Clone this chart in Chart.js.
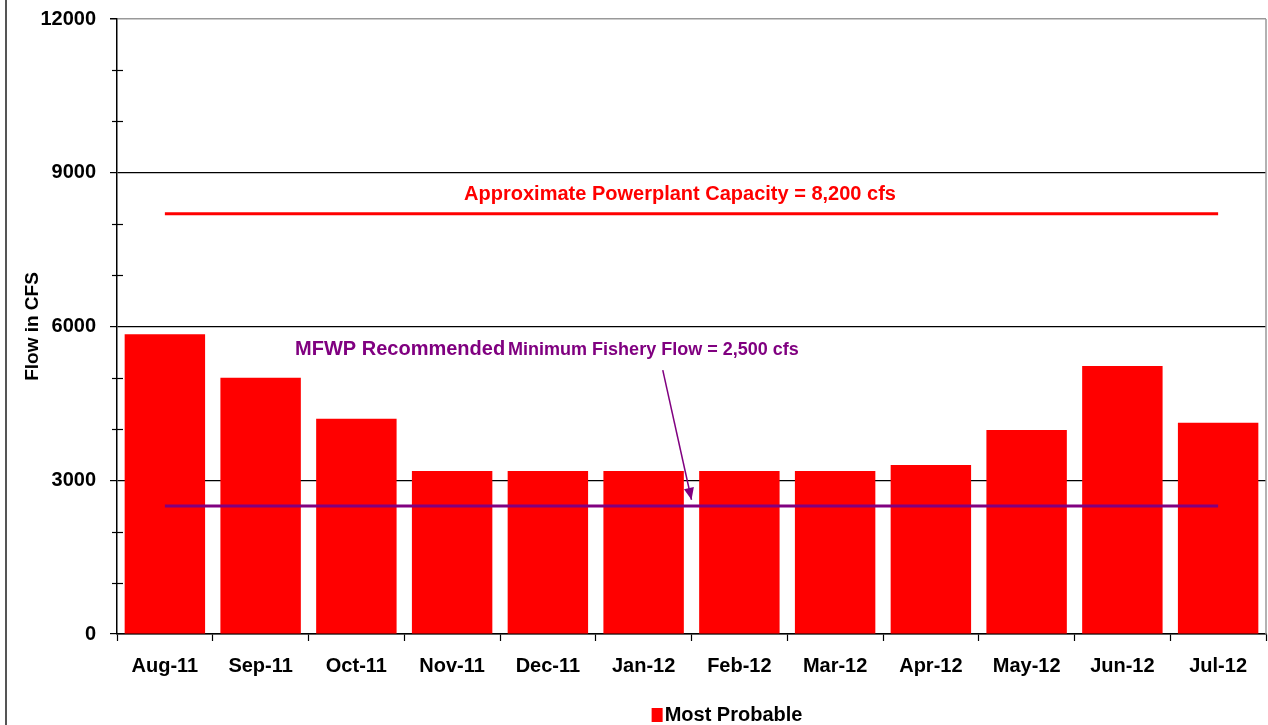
<!DOCTYPE html>
<html>
<head>
<meta charset="utf-8">
<script src="https://cdn.jsdelivr.net/npm/chart.js@4/dist/chart.umd.min.js"></script>
<style>
  html, body { margin: 0; padding: 0; background: #fff; }
  #wrap { position: relative; width: 1268px; height: 725px; }
  #frame { position: absolute; left: 5px; top: 0; width: 0; height: 725px; border-left: 2px solid #555; }
</style>
</head>
<body>
<div id="wrap">
  <div id="frame"></div>
  <canvas id="chart" width="1268" height="725"></canvas>
</div>
<script>
'use strict';

const months = ['Aug-11', 'Sep-11', 'Oct-11', 'Nov-11', 'Dec-11', 'Jan-12',
                'Feb-12', 'Mar-12', 'Apr-12', 'May-12', 'Jun-12', 'Jul-12'];
const mostProbable = [5850, 5000, 4200, 3180, 3180, 3180, 3180, 3180, 3300, 3980, 5230, 4120];
const powerplantCapacity = [8200, 8200, 8200, 8200, 8200, 8200, 8200, 8200, 8200, 8200, 8200, 8200];
const fisheryFlow = [2500, 2500, 2500, 2500, 2500, 2500, 2500, 2500, 2500, 2500, 2500, 2500];
const yTicks = [0, 3000, 6000, 9000, 12000];
const yMinorTicks = [1000, 2000, 4000, 5000, 7000, 8000, 10000, 11000];

const capacityText = 'Approximate Powerplant Capacity = 8,200 cfs';
const fisheryTextBig = 'MFWP Recommended';
const fisheryTextSmall = ' Minimum Fishery Flow = 2,500 cfs';
const legendText = 'Most Probable';

const FONT = '"Liberation Sans", Arial, sans-serif';

// excel style minor ticks, grey right border, notes + arrow, legend
const extras = {
    id: 'extras',
    afterDatasetsDraw(chart) {
        const ctx = chart.ctx;
        const area = chart.chartArea;
        const x = chart.scales.x;
        const y = chart.scales.y;

        ctx.save();
        ctx.strokeStyle = '#999';
        ctx.lineWidth = 1.5;
        ctx.beginPath();
        ctx.moveTo(area.right, area.top);
        ctx.lineTo(area.right, area.bottom);
        ctx.stroke();

        ctx.strokeStyle = '#000';
        ctx.lineWidth = 1.2;
        yMinorTicks.forEach(v => {
            const py = Math.round(y.getPixelForValue(v)) + 0.5;
            ctx.beginPath();
            ctx.moveTo(area.left - 5, py);
            ctx.lineTo(area.left + 6, py);
            ctx.stroke();
        });

        ctx.textBaseline = 'middle';
        ctx.fillStyle = '#ff0000';
        ctx.font = 'bold 20px ' + FONT;
        ctx.textAlign = 'center';
        ctx.fillText(capacityText, x.getPixelForValue(5.38), y.getPixelForValue(8580));

        ctx.fillStyle = '#800080';
        ctx.textAlign = 'left';
        const tx = x.getPixelForValue(1.36);
        const ty = y.getPixelForValue(5560);
        ctx.font = 'bold 20px ' + FONT;
        ctx.fillText(fisheryTextBig, tx, ty);
        const w = ctx.measureText(fisheryTextBig).width;
        ctx.font = 'bold 18px ' + FONT;
        ctx.fillText(fisheryTextSmall, tx + w - 2, ty + 1);

        // arrow
        const x0 = x.getPixelForValue(5.2), y0 = y.getPixelForValue(5150);
        const x1 = x.getPixelForValue(5.5), y1 = y.getPixelForValue(2620);
        const ang = Math.atan2(y1 - y0, x1 - x0);
        ctx.strokeStyle = '#800080';
        ctx.lineWidth = 1.5;
        ctx.beginPath();
        ctx.moveTo(x0, y0);
        ctx.lineTo(x1, y1);
        ctx.stroke();
        ctx.beginPath();
        ctx.moveTo(x1, y1);
        ctx.lineTo(x1 - 13 * Math.cos(ang - 0.4), y1 - 13 * Math.sin(ang - 0.4));
        ctx.lineTo(x1 - 13 * Math.cos(ang + 0.4), y1 - 13 * Math.sin(ang + 0.4));
        ctx.closePath();
        ctx.fill();

        // legend
        const ly = chart.height - 10;
        const lx = x.getPixelForValue(5.0) + 8;
        ctx.fillStyle = '#ff0000';
        ctx.fillRect(lx, ly - 7, 11, 14);
        ctx.fillStyle = '#000';
        ctx.font = 'bold 20px ' + FONT;
        ctx.fillText(legendText, lx + 13, ly);
        ctx.restore();
    }
};

const data = {
    labels: months,
    datasets: [{
        type: 'line',
        label: 'Capacity',
        data: powerplantCapacity,
        borderColor: '#ff0000',
        borderWidth: 3,
        pointRadius: 0,
        order: 0
    }, {
        type: 'line',
        label: 'Fishery',
        data: fisheryFlow,
        borderColor: '#800080',
        borderWidth: 3,
        pointRadius: 0,
        order: 0
    }, {
        type: 'bar',
        label: legendText,
        data: mostProbable,
        backgroundColor: '#ff0000',
        barPercentage: 0.84,
        categoryPercentage: 1.0,
        order: 1
    }]
};

const config = {
    type: 'bar',
    data: data,
    options: {
        responsive: false,
        animation: false,
        layout: { padding: { left: 0, right: 2, top: 19, bottom: 0 } },
        plugins: {
            tooltip: { enabled: false },
            legend: { display: false }
        },
        scales: {
            x: {
                afterFit: s => { s.height = 91; },
                grid: {
                    offset: true,
                    drawOnChartArea: false,
                    tickLength: 7,
                    tickColor: '#000',
                    tickWidth: 1.2
                },
                border: { color: '#000', width: 1.5 },
                ticks: {
                    color: '#000',
                    padding: 13,
                    font: { family: FONT, size: 20, weight: 'bold' }
                }
            },
            y: {
                min: 0,
                max: 12000,
                afterFit: s => { s.width = 117; s.paddingTop = 0; s.paddingBottom = 0; },
                afterBuildTicks: s => { s.ticks = yTicks.map(v => ({ value: v })); },
                grid: {
                    color: ctx => ctx.tick && ctx.tick.value === 12000 ? '#999' : '#000',
                    lineWidth: ctx => ctx.tick && ctx.tick.value === 12000 ? 1.5 : 1.2,
                    tickLength: 7,
                    tickColor: '#000'
                },
                border: { color: '#000', width: 1.5 },
                title: {
                    display: true,
                    text: 'Flow in CFS',
                    color: '#000',
                    font: { family: FONT, size: 19, weight: 'bold' },
                    padding: { top: 21, bottom: 0 }
                },
                ticks: {
                    color: '#000',
                    padding: 14,
                    callback: v => String(v),
                    font: { family: FONT, size: 20, weight: 'bold' }
                }
            }
        }
    },
    plugins: [extras]
};

new Chart(document.querySelector('#chart'), config);
</script>
</body>
</html>
